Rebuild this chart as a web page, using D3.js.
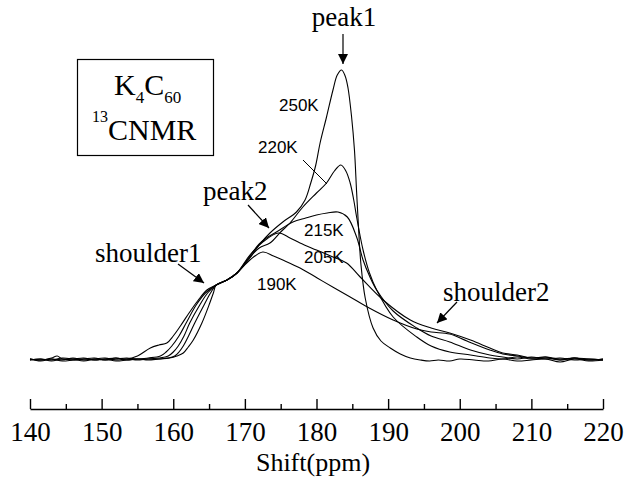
<!DOCTYPE html>
<html>
<head>
<meta charset="utf-8">
<script src="https://cdn.jsdelivr.net/npm/d3@7"></script>
<style>
  body { margin: 0; background: #fff; }
  svg { display: block; }
</style>
</head>
<body>
<svg id="chart" width="635" height="478"></svg>
<script>
// shift (ppm), intensity (arb. units)
var s190 = [[140,1],[141.5,0],[143,2],[143.8,4],[144.5,1],[146,1],[147.5,2],[149,0],[150.5,1],[152,2],[153.5,1],[155,4],[156.8,12],[158,15],[159.1,17],[160,24],[161,34],[162.3,48],[163.5,60],[164.7,70],[166,75],[167.5,80],[168.9,87],[170.7,100],[172.5,108],[174,104],[175.3,100],[177.7,92],[180.1,82],[182.5,72],[184.7,63],[187.1,53],[190.7,40],[194,31],[196,28],[198.6,26],[201,19],[204.2,10],[206,6],[208,4],[210,2],[212,3],[214,1],[216,2],[218,0],[220,1]];
var s205 = [[140,0],[141.5,1],[143,-1],[144.5,1],[146,0],[147.5,1],[149,2],[150.5,0],[152,1],[153.5,2],[155,1],[156.5,2],[158.2,4],[159,8],[159.8,14],[160.8,24],[161.8,37],[163.2,55],[164.5,67],[166,75],[167.5,80],[168.9,87],[170.7,105],[172.5,118],[174.7,127],[176.3,122],[177.7,117],[180,110],[182.3,103],[184.2,97],[186.1,83],[189.3,60],[193.1,40],[196,32],[198.6,27],[201.5,20],[204.2,12],[206,7],[208,5],[210,2],[212,3],[214,0],[216,2],[218,1],[220,0]];
var s215 = [[140,1],[141.5,-1],[143,1],[144.5,0],[146,2],[147.5,0],[149,1],[150.5,0],[152,2],[153.5,0],[155,1],[156.5,1],[158,2],[159.3,4],[160,8],[160.7,14],[161.5,24],[162.3,37],[163.7,55],[164.8,67],[166,75],[167.5,80],[168.9,87],[170.7,104],[172,116],[173,122],[174.4,128],[176.7,138],[178.5,142],[180,145],[181.5,147],[183,148],[184.3,143],[185.6,123],[186.5,100],[187.4,84],[188.4,70],[190.7,49],[194,32],[196,24],[198.6,18],[201.5,10],[204.2,5],[206,3],[208,1],[210,3],[212,1],[214,2],[216,0],[218,1],[220,0]];
var s220 = [[140,0],[141.5,1],[143,0],[144.5,2],[146,1],[147.5,-1],[149,1],[150.5,2],[152,0],[153.5,1],[155,0],[156.5,1],[158,1],[159.3,2],[160.2,4],[160.8,8],[161.4,14],[162.2,25],[163,37],[164.3,55],[165.2,67],[166,75],[167.5,80],[168.9,87],[170.7,103],[172,112],[173.5,117],[175,128],[176.3,137],[178.1,153],[180,167],[181.4,177],[182.5,189],[183.4,195],[184.1,189],[184.7,177],[185.2,160],[185.6,143],[186.5,110],[187.4,87],[188.4,70],[190.7,43],[194,23],[196,14],[198.6,8],[201.5,5],[204.2,2],[206,1],[208,3],[210,1],[212,2],[214,0],[216,2],[218,0],[220,1]];
var s250 = [[140,1],[141.5,0],[143,1],[144.5,-1],[146,0],[147.5,1],[149,0],[150.5,1],[152,-1],[153.5,0],[155,1],[156.5,0],[158,1],[159.5,2],[160.5,4],[161.4,7],[162.1,13],[162.8,20],[164,37],[165.1,57],[165.6,67],[166,75],[167.5,80],[168.9,87],[170.7,102],[172,115],[173.5,127],[175.3,138],[177.2,148],[178.4,160],[179.2,177],[179.9,195],[180.5,217],[181.4,243],[182.3,270],[182.9,285],[183.5,290],[184.0,284],[184.4,272],[184.9,243],[185.3,210],[185.6,168],[185.9,128],[186.2,96],[186.8,62],[187.9,32],[189,19],[190.3,12],[191.7,6],[193.1,2],[194.5,0],[195.8,-1],[197,0],[198.6,-1],[200,1],[202,0],[204,-1],[206,1],[208,-1],[210,0],[212,1],[214,-2],[216,1],[218,-1],[220,0]];

var series = [s190, s205, s215, s220, s250];
var tempLabels = ["190K", "205K", "215K", "220K", "250K"];
var majorTicks = [140, 150, 160, 170, 180, 190, 200, 210, 220];
var minorTicks = [145, 155, 165, 175, 185, 195, 205, 215];

var svg = d3.select("#chart");

var x = d3.scaleLinear().domain([140, 220]).range([30, 603]);
var y = d3.scaleLinear().domain([0, 300]).range([360, 60]);

// arrow head
svg.append("defs").append("marker")
  .attr("id", "arr")
  .attr("viewBox", "0 0 10 10")
  .attr("refX", 10).attr("refY", 5)
  .attr("markerWidth", 10).attr("markerHeight", 10)
  .attr("markerUnits", "userSpaceOnUse")
  .attr("orient", "auto")
  .append("path").attr("d", "M0,0L10,5L0,10z").attr("fill", "#000");

var line = d3.line()
  .x(d => x(d[0]))
  .y(d => y(d[1]))
  .curve(d3.curveCatmullRom.alpha(0.5));

svg.selectAll(".spec")
  .data(series)
  .enter().append("path")
  .attr("class", "spec")
  .attr("d", line)
  .attr("fill", "none")
  .attr("stroke", "#000")
  .attr("stroke-width", 1.1);

// x axis, ticks pointing up
var axisG = svg.append("g").attr("transform", "translate(0,409)");
axisG.call(d3.axisBottom(x).tickValues(majorTicks).tickSizeInner(-10).tickSizeOuter(0).tickPadding(13).tickFormat(d3.format("d")));
axisG.append("g").call(d3.axisBottom(x).tickValues(minorTicks).tickSizeInner(-5).tickSizeOuter(0).tickFormat(""))
  .select(".domain").remove();
axisG.selectAll("line, path").attr("stroke", "#000").attr("stroke-width", 1.4);
axisG.selectAll("text")
  .attr("font-family", "Liberation Serif, Times New Roman, serif")
  .attr("font-size", 27)
  .attr("fill", "#000");

svg.append("text")
  .attr("x", 313).attr("y", 471)
  .attr("text-anchor", "middle")
  .attr("font-family", "Liberation Serif, serif")
  .attr("font-size", 26)
  .text("Shift(ppm)");

// sample box
svg.append("rect")
  .attr("x", 77.5).attr("y", 59.5).attr("width", 136).attr("height", 96)
  .attr("fill", "none").attr("stroke", "#000").attr("stroke-width", 1.2);

var t1 = svg.append("text").attr("x", 114).attr("y", 95)
  .attr("font-family", "Liberation Serif, serif").attr("font-size", 30);
t1.append("tspan").text("K");
t1.append("tspan").attr("font-size", 17).attr("dy", 8).text("4");
t1.append("tspan").attr("dy", -8).text("C");
t1.append("tspan").attr("font-size", 17).attr("dy", 8).text("60");

var t2 = svg.append("text").attr("x", 92).attr("y", 140)
  .attr("font-family", "Liberation Serif, serif").attr("font-size", 30);
t2.append("tspan").attr("font-size", 16).attr("dy", -18).text("13");
t2.append("tspan").attr("dy", 18).text("CNMR");

// annotations
var serif = "Liberation Serif, serif";
var notes = [
  { t: "peak1", x: 344, y: 26, a: "middle" },
  { t: "peak2", x: 203, y: 200, a: "start" },
  { t: "shoulder1", x: 95, y: 262, a: "start" },
  { t: "shoulder2", x: 443, y: 301, a: "start" }
];
svg.selectAll(".note").data(notes).enter().append("text")
  .attr("class", "note")
  .attr("x", d => d.x).attr("y", d => d.y)
  .attr("text-anchor", d => d.a)
  .attr("font-family", serif).attr("font-size", 27)
  .text(d => d.t);

var arrows = [
  [343, 34, 343, 64],
  [248, 205, 269, 228],
  [178, 264, 204, 283],
  [457, 302, 437, 323]
];
svg.selectAll(".arrow").data(arrows).enter().append("line")
  .attr("class", "arrow")
  .attr("x1", d => d[0]).attr("y1", d => d[1])
  .attr("x2", d => d[2]).attr("y2", d => d[3])
  .attr("stroke", "#000").attr("stroke-width", 1.2)
  .attr("marker-end", "url(#arr)");

// temperature labels
var tempPos = [[257, 290], [304, 263], [304, 236], [258, 153], [279, 111]];
svg.selectAll(".temp").data(tempLabels).enter().append("text")
  .attr("class", "temp")
  .attr("x", (d, i) => tempPos[i][0]).attr("y", (d, i) => tempPos[i][1])
  .attr("font-family", "Liberation Sans, Arial, sans-serif")
  .attr("font-size", 17)
  .text(d => d);

// leader for 220K
svg.append("line")
  .attr("x1", 303).attr("y1", 160).attr("x2", 327).attr("y2", 184)
  .attr("stroke", "#000").attr("stroke-width", 1);
</script>
</body>
</html>
